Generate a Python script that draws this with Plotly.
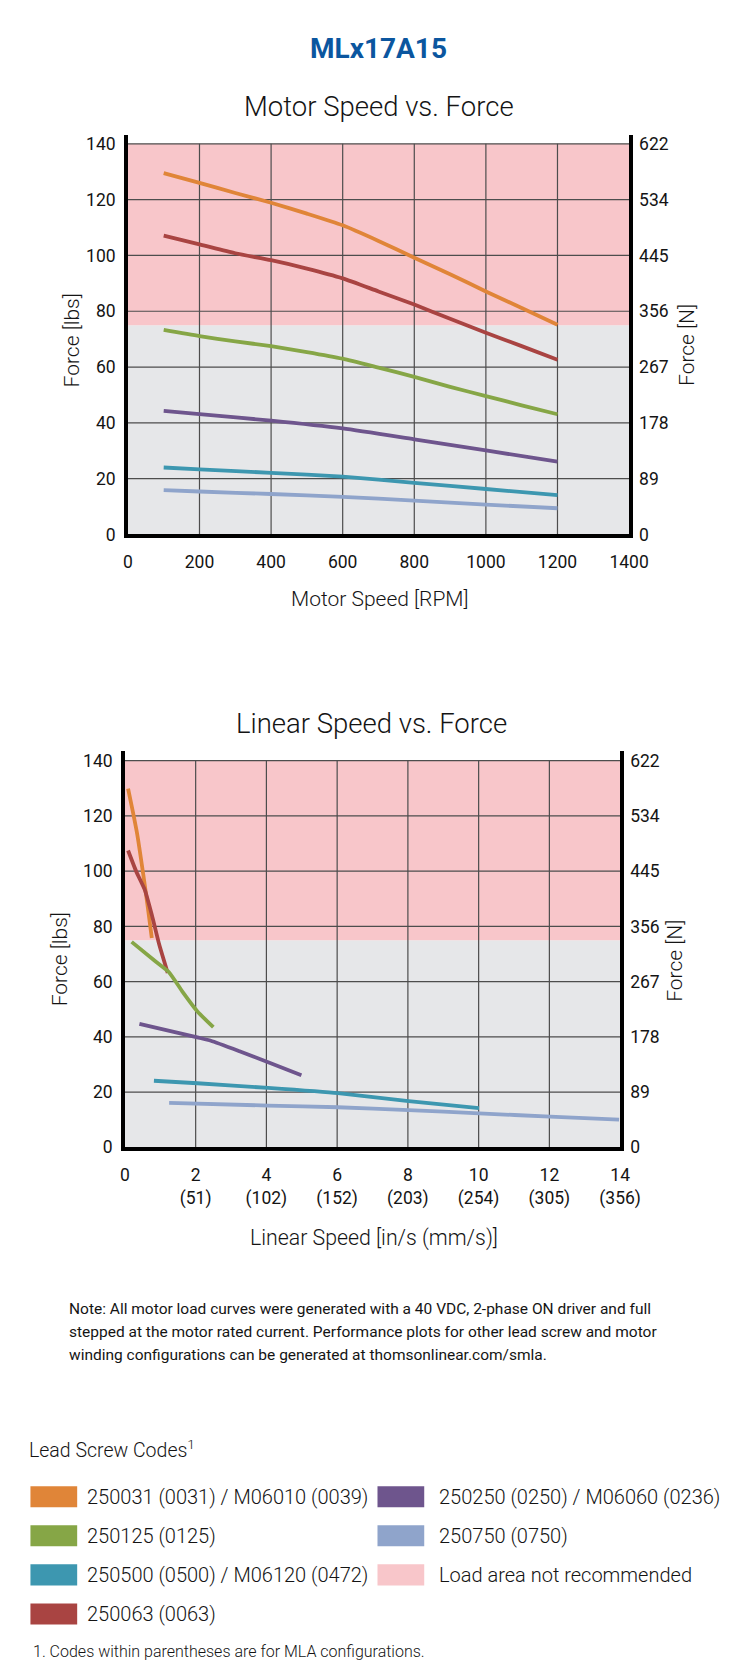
import plotly.graph_objects as go

# ---------------- data ----------------
SERIES_NAMES = ["250031 (0031) / M06010 (0039)", "250125 (0125)", "250500 (0500) / M06120 (0472)",
                "250063 (0063)", "250250 (0250) / M06060 (0236)", "250750 (0750)"]
SERIES_COLORS = ["#e08538", "#86a646", "#3d97b0", "#a94442", "#6e558d", "#8fa4cb"]

# Motor speed vs force (RPM, lbs)
RPM_FINE = [100, 200, 300, 400, 500, 600, 700, 800, 900, 1000, 1100, 1200]
RPM_COARSE = [100, 200, 400, 600, 800, 1000, 1200]
M_ORANGE = [129.5, 126, 122.4, 118.9, 115, 110.8, 105.2, 99.2, 93.3, 87.1, 81.2, 75.2]
M_RED = [107.1, 104, 100.8, 98.3, 95.3, 91.8, 87.1, 82.4, 77.3, 72.3, 67.5, 62.6]
M_GREEN = [73.3, 71.1, 69.2, 67.5, 65.4, 63, 59.8, 56.5, 52.9, 49.6, 46.3, 43.1]
M_PURPLE = [44.3, 43.1, 40.8, 38, 34.1, 30.1, 26.1]
M_TEAL = [24, 23.3, 22.1, 20.7, 18.5, 16.3, 14.1]
M_LBLUE = [15.9, 15.4, 14.5, 13.5, 12.1, 10.7, 9.4]

# Linear speed vs force (in/s, lbs)
L_ORANGE_X = [0.09, 0.22, 0.35, 0.52, 0.65, 0.76]
L_ORANGE_Y = [129.9, 121.8, 113.2, 98.7, 86.7, 75.8]
L_RED_X = [0.09, 0.32, 0.56, 0.76, 0.97, 1.21]
L_RED_Y = [107.5, 99.9, 93.3, 84.2, 73.4, 63.1]
L_GREEN_X = [0.19, 0.86, 1.24, 1.62, 2.05, 2.5]
L_GREEN_Y = [74.4, 67.4, 63.5, 56.5, 49.2, 43.5]
L_PURPLE_X = [0.41, 2.05, 2.43, 3.24, 4.05, 4.99]
L_PURPLE_Y = [44.7, 39.8, 38.6, 34.8, 30.8, 26.1]
L_TEAL_X = [0.82, 2.05, 4.05, 6.02, 8.02, 10.01]
L_TEAL_Y = [24.1, 23.2, 21.5, 19.6, 16.7, 14.2]
L_LBLUE_X = [1.25, 4.05, 6.02, 8.02, 10.01, 12.02, 13.97]
L_LBLUE_Y = [16.1, 15.1, 14.5, 13.5, 12.3, 11.1, 10.0]

LBS_TICKS = [0, 20, 40, 60, 80, 100, 120, 140]
N_TICKS = ["0", "89", "178", "267", "356", "445", "534", "622"]
RPM_TICKS = [0, 200, 400, 600, 800, 1000, 1200, 1400]
INS_TICKS = [0, 2, 4, 6, 8, 10, 12, 14]
INS_TICKTEXT = ["0", "2<br>(51)", "4<br>(102)", "6<br>(152)", "8<br>(203)", "10<br>(254)", "12<br>(305)", "14<br>(356)"]
LOAD_LIMIT = 75

NOTE_LINES = ["Note: All motor load curves were generated with a 40 VDC, 2-phase ON driver and full",
              "stepped at the motor rated current. Performance plots for other lead screw and motor",
              "winding configurations can be generated at thomsonlinear.com/smla."]

# ---------------- layout helpers ----------------
PAGE_MARGIN = 8
W, H = 750 - 2 * PAGE_MARGIN, 1669 - 2 * PAGE_MARGIN
# calibration of the photographed page (observed scale/offset of the capture)
CAL_SX, CAL_OX = 0.97, 3.7
CAL_SY, CAL_OY = 0.992, 1.3
FONT = "Roboto, Liberation Sans, Arial, sans-serif"
PINK = "#f8c6ca"
GRAY = "#e6e7e9"
GRID = "#4d4d4d"
INK = "#141414"


def px(x):
    return ((x - CAL_OX) / CAL_SX - PAGE_MARGIN) / W


def py(y):
    return 1 - ((y - CAL_OY) / CAL_SY - PAGE_MARGIN) / H


fig = go.Figure()

top_series = [
    (RPM_FINE, M_ORANGE, 0), (RPM_FINE, M_RED, 3), (RPM_FINE, M_GREEN, 1),
    (RPM_COARSE, M_PURPLE, 4), (RPM_COARSE, M_TEAL, 2), (RPM_COARSE, M_LBLUE, 5),
]
for xs, ys, ci in top_series:
    fig.add_trace(go.Scatter(x=xs, y=ys, mode="lines", xaxis="x", yaxis="y",
                             line=dict(color=SERIES_COLORS[ci], width=3.8, shape="spline", smoothing=0.6),
                             name=SERIES_NAMES[ci], showlegend=False, hoverinfo="skip"))

bot_series = [
    (L_ORANGE_X, L_ORANGE_Y, 0), (L_RED_X, L_RED_Y, 3), (L_GREEN_X, L_GREEN_Y, 1),
    (L_PURPLE_X, L_PURPLE_Y, 4), (L_TEAL_X, L_TEAL_Y, 2), (L_LBLUE_X, L_LBLUE_Y, 5),
]
for xs, ys, ci in bot_series:
    fig.add_trace(go.Scatter(x=xs, y=ys, mode="lines", xaxis="x2", yaxis="y2",
                             line=dict(color=SERIES_COLORS[ci], width=3.8, shape="spline", smoothing=0.5),
                             name=SERIES_NAMES[ci], showlegend=False, hoverinfo="skip"))

# empty traces so the right-hand (Newton) axes get drawn
fig.add_trace(go.Scatter(x=[None], y=[None], xaxis="x", yaxis="y3", showlegend=False, hoverinfo="skip"))
fig.add_trace(go.Scatter(x=[None], y=[None], xaxis="x2", yaxis="y4", showlegend=False, hoverinfo="skip"))

# plot boxes (target pixels)
TOP = dict(l=127, r=631, t=135, b=534, ymax=143.2)
BOT = dict(l=124, r=622, t=750, b=1146, ymax=143.6)

tickfont = dict(family=FONT, size=17.5, color=INK)
axline = dict(showline=True, linecolor="black", linewidth=3.6, showgrid=False, zeroline=False)

fig.update_layout(
    width=W, height=H, margin=dict(l=0, r=0, t=0, b=0),
    paper_bgcolor="white", plot_bgcolor="white", showlegend=False,
    xaxis=dict(domain=[px(TOP["l"]), px(TOP["r"])], range=[0, 1400], tickvals=RPM_TICKS,
               ticks="", ticklabelstandoff=9, tickfont=tickfont, anchor="y", **axline),
    yaxis=dict(domain=[py(TOP["b"]), py(TOP["t"])], range=[0, TOP["ymax"]], tickvals=LBS_TICKS,
               ticks="", ticklabelstandoff=5, tickfont=tickfont, anchor="x", mirror=True, **axline),
    yaxis3=dict(domain=[py(TOP["b"]), py(TOP["t"])], range=[0, TOP["ymax"]], tickvals=LBS_TICKS,
                ticktext=N_TICKS, overlaying="y", side="right", anchor="x", ticks="",
                ticklabelstandoff=9, tickfont=tickfont, showgrid=False, zeroline=False, showline=False),
    xaxis2=dict(domain=[px(BOT["l"]), px(BOT["r"])], range=[0, 14], tickvals=INS_TICKS,
                ticktext=INS_TICKTEXT, ticks="", ticklabelstandoff=9, tickfont=tickfont, anchor="y2", **axline),
    yaxis2=dict(domain=[py(BOT["b"]), py(BOT["t"])], range=[0, BOT["ymax"]], tickvals=LBS_TICKS,
                ticks="", ticklabelstandoff=5, tickfont=tickfont, anchor="x2", mirror=True, **axline),
    yaxis4=dict(domain=[py(BOT["b"]), py(BOT["t"])], range=[0, BOT["ymax"]], tickvals=LBS_TICKS,
                ticktext=N_TICKS, overlaying="y2", side="right", anchor="x2", ticks="",
                ticklabelstandoff=9, tickfont=tickfont, showgrid=False, zeroline=False, showline=False),
)

shapes = []
for xr, yr, xt in (("x", "y", RPM_TICKS), ("x2", "y2", INS_TICKS)):
    shapes.append(dict(type="rect", xref=f"{xr} domain", yref=yr, x0=0, x1=1, y0=0, y1=LOAD_LIMIT,
                       fillcolor=GRAY, line=dict(width=0), layer="below"))
    shapes.append(dict(type="rect", xref=f"{xr} domain", yref=yr, x0=0, x1=1, y0=LOAD_LIMIT, y1=LBS_TICKS[-1],
                       fillcolor=PINK, line=dict(width=0), layer="below"))
    for v in LBS_TICKS[1:]:
        shapes.append(dict(type="line", xref=f"{xr} domain", yref=yr, x0=0, x1=1, y0=v, y1=v,
                           line=dict(color=GRID, width=1.2), layer="below"))
    for v in xt[1:-1]:
        shapes.append(dict(type="line", xref=xr, yref=yr, x0=v, x1=v, y0=0, y1=LBS_TICKS[-1],
                           line=dict(color=GRID, width=1.2), layer="below"))

annotations = []


def text(x, y, s, size, weight=400, **kw):
    d = dict(x=px(x), y=py(y), xref="paper", yref="paper", text=s, showarrow=False,
             font=dict(family=FONT, size=size, color=kw.pop("color", INK), weight=weight),
             xanchor=kw.pop("xanchor", "center"), yanchor=kw.pop("yanchor", "middle"),
             borderpad=0)
    d.update(kw)
    annotations.append(d)


text(379, 49, "<b>MLx17A15</b>", 28, color="#0b569f")
text(380, 107, "Motor Speed vs. Force", 27.5, weight=300)
text(381, 598, "Motor Speed [RPM]", 21, weight=300)
text(71, 340, "Force [lbs]", 21, weight=300, textangle=-90)
text(689, 345, "Force [N]", 21, weight=300, textangle=-90)

text(372, 723, "Linear Speed vs. Force", 27.5, weight=300)
text(374, 1237, "Linear Speed [in/s (mm/s)]", 21.3, weight=300)
text(59, 958, "Force [lbs]", 21, weight=300, textangle=-90)
text(677, 960, "Force [N]", 21, weight=300, textangle=-90)

for i, line in enumerate(NOTE_LINES):
    text(67, 1307 + 23 * i, line, 15.5, xanchor="left")

text(27, 1447, "Lead Screw Codes<sup>1</sup>", 19.5, weight=300, xanchor="left")

LEG_COLS = [(29, 85), (378, 439)]
LEG_ROWS = [1495, 1534, 1573, 1612]
legend_items = [(0, 0, SERIES_COLORS[0], SERIES_NAMES[0]), (0, 1, SERIES_COLORS[1], SERIES_NAMES[1]),
                (0, 2, SERIES_COLORS[2], SERIES_NAMES[2]), (0, 3, SERIES_COLORS[3], SERIES_NAMES[3]),
                (1, 0, SERIES_COLORS[4], SERIES_NAMES[4]), (1, 1, SERIES_COLORS[5], SERIES_NAMES[5]),
                (1, 2, PINK, "Load area not recommended")]
for c, r, col, lab in legend_items:
    sx, tx = LEG_COLS[c]
    cy = LEG_ROWS[r]
    shapes.append(dict(type="rect", xref="paper", yref="paper", x0=px(sx), x1=px(sx + 47),
                       y0=py(cy + 10.5), y1=py(cy - 10.5), fillcolor=col, line=dict(width=0)))
    text(tx, cy, lab, 20, weight=300, xanchor="left")

text(31, 1650, "1. Codes within parentheses are for MLA configurations.", 16, weight=300, xanchor="left")

fig.update_layout(shapes=shapes, annotations=annotations)
fig.write_html("out.html")
